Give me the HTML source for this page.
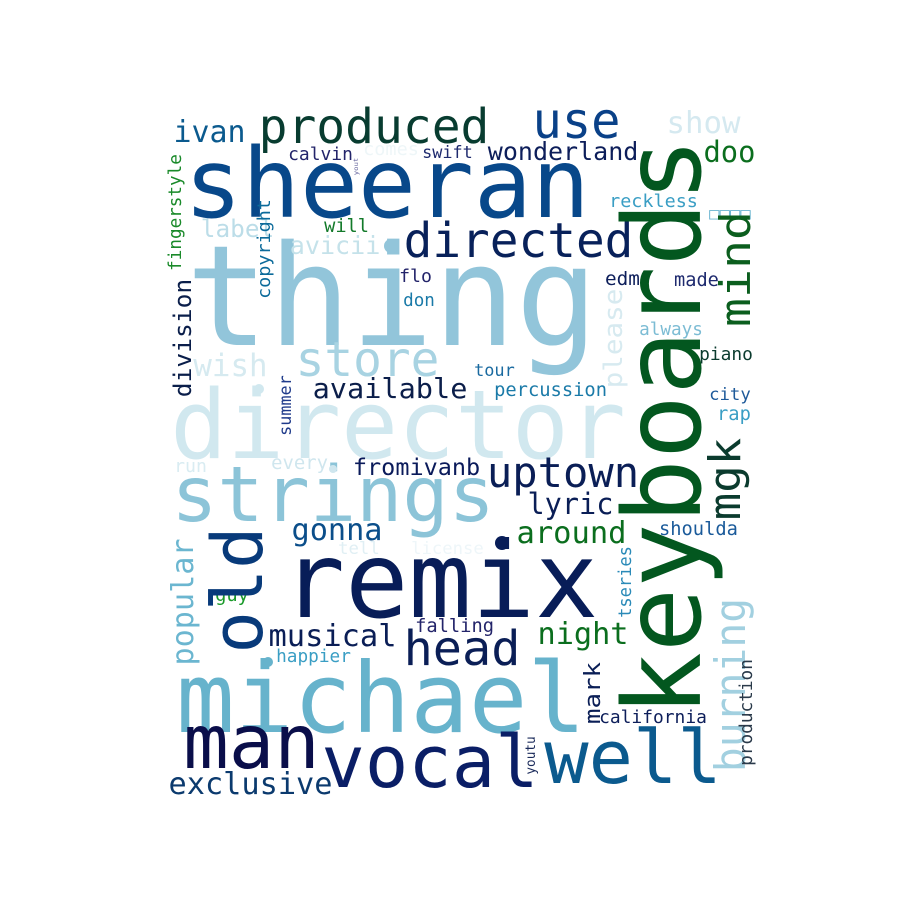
<!DOCTYPE html>
<html><head><meta charset="utf-8"><style>
html,body{margin:0;padding:0;background:#fff;}
svg{display:block;}
text{font-family:"DejaVu Sans Mono","Liberation Mono",monospace;}
</style></head>
<body>
<svg id="cloud" width="900" height="900" viewBox="0 0 900 900" xmlns="http://www.w3.org/2000/svg">
<rect x="0" y="0" width="900" height="900" fill="#ffffff"/>
</svg>
<script>
// [text, left/baselineX, baseline/bottomY, inkLength, fontSize, color, vertical]
const words = [
["thing",193,345,398,140,"#92c5da",0],
["director",175,458,446,95,"#d1e8ef",0],
["sheeran",189,217,396,96,"#08488a",0],
["produced",261,143,226,48,"#083c30",0],
["use",535,138,83,50,"#0a4188",0],
["show",668,133,71,30,"#d5e9f0",0],
["ivan",175,142,69,30,"#0b5a8e",0],
["calvin",289,160,63,18,"#23246a",0],
["comes",364,155,54,18,"#eef6f8",0],
["swift",423,158,49,17,"#1e2a6e",0],
["wonderland",489,160,148,25,"#0d1e5a",0],
["doo",705,162,49,29,"#0b6e1e",0],
["reckless",610,207,87,18,"#3a9ec4",0],
["□□□□",710,219,40,16,"#6ab4d0",0],
["label",202,237,71,24,"#bcdde8",0],
["will",325,232,43,19,"#137a2a",0],
["directed",406,257,225,48,"#08215a",0],
["avicii",291,254,88,25,"#c5e2ea",0],
["flo",400,282,31,18,"#23246a",0],
["edm",606,285,33,19,"#0d1e5a",0],
["made",675,286,43,19,"#1e2a6e",0],
["don",404,306,30,18,"#1a7aa8",0],
["always",640,335,62,18,"#7cbcd4",0],
["piano",700,360,52,18,"#0b3b2e",0],
["wish",195,376,71,31,"#d6eaf0",0],
["store",298,376,139,48,"#a8d3e2",0],
["tour",475,376,39,17,"#1a6aa0",0],
["available",314,398,152,28,"#0b1e4a",0],
["percussion",495,396,111,19,"#1a7aa8",0],
["city",710,400,40,17,"#1e5a9a",0],
["rap",718,420,32,19,"#3a9ec4",0],
["run",175,472,31,18,"#d9ecf2",0],
["every",272,469,55,19,"#cfe6ee",0],
["fromivanb",354,475,125,23,"#0a1a5a",0],
["uptown",489,487,148,42,"#0a1e56",0],
["strings",175,521,316,77,"#8cc4d8",0],
["lyric",529,514,83,29,"#0a1e56",0],
["around",518,543,107,30,"#0b6e1e",0],
["shoulda",660,535,77,19,"#1a5a9a",0],
["gonna",293,540,88,30,"#0b4e8a",0],
["tell",339,554,40,17,"#e0eff4",0],
["license",412,554,71,17,"#eef6f9",0],
["remix",287,617,306,105,"#081d58",0],
["guy",216,601,32,19,"#1a9a2a",0],
["falling",416,632,77,19,"#23246a",0],
["musical",270,646,125,30,"#0a1e56",0],
["night",539,644,88,30,"#0b6e1e",0],
["head",406,665,112,48,"#0a1e56",0],
["happier",277,662,73,18,"#3a9ec4",0],
["michael",181,732,400,97,"#67b3cc",0],
["california",600,723,106,18,"#0d1e5a",0],
["man",187,768,129,75,"#0a0e4a",0],
["vocal",325,787,210,72,"#0a1e66",0],
["well",548,783,170,74,"#0b5a8e",0],
["exclusive",170,794,161,30,"#0b3a6e",0],
["keyboards",700,711,568,107,"#03571f",1],
["fingerstyle",181,270,115,18,"#1a8a2a",1],
["yout",358,175,17,6,"#6a6aa0",1],
["mind",750,325,112,42,"#0b5e1e",1],
["copyright",270,298,98,18,"#0b6a9a",1],
["division",191,396,116,24,"#0a1e4a",1],
["please",622,387,97,26,"#d7eaf0",1],
["summer",291,435,59,17,"#1e3a8a",1],
["mgk",740,518,78,44,"#0b3b2e",1],
["old",262,650,120,70,"#083a7a",1],
["popular",193,664,124,30,"#6bb6d0",1],
["tseries",631,617,70,18,"#2a8ab8",1],
["burning",745,770,170,42,"#a2d0e0",1],
["mark",600,723,60,22,"#0a1e56",1],
["production",752,765,105,18,"#2a3a4a",1],
["youtu",535,774,37,13,"#1a2a5a",1]
];
// [cx, cy, r, color]
const dots = [
[391,246,7,"#92c5da"],
[259,389,5,"#d1e8ef"],
[333,469,4,"#cfe6ee"],
[502,543,7,"#081d58"],
[268,662,5,"#67b3cc"]
];
const NS="http://www.w3.org/2000/svg";
const svg=document.getElementById('cloud');
for(const w of words){
  const [t,a,b,len,s,c,v]=w;
  const el=document.createElementNS(NS,'text');
  
  
  el.setAttribute('font-size',s);
  el.setAttribute('fill',c);
  el.setAttribute('textLength',(len+0.1*s).toFixed(1));
  el.setAttribute('lengthAdjust','spacingAndGlyphs');
  if(v){
    el.setAttribute('x',0);el.setAttribute('y',0);
    el.setAttribute('transform','translate('+a+','+(b+0.05*s).toFixed(1)+') rotate(-90)');
  }else{
    el.setAttribute('x',(a-0.05*s).toFixed(1));
    el.setAttribute('y',b);
  }
  el.textContent=t;
  svg.appendChild(el);
}
for(const d of dots){
  const el=document.createElementNS(NS,'circle');
  
  
  el.setAttribute('cx',d[0]);el.setAttribute('cy',d[1]);el.setAttribute('r',d[2]);el.setAttribute('fill',d[3]);
  svg.appendChild(el);
}
</script>
</body></html>
